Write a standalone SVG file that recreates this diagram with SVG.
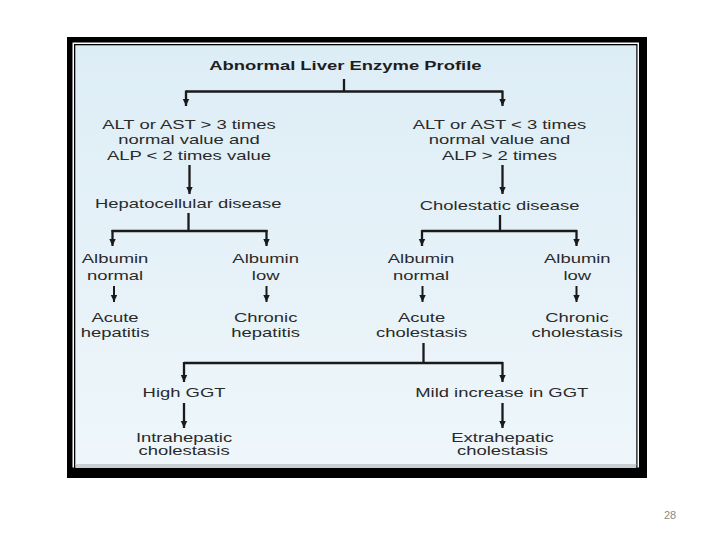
<svg xmlns="http://www.w3.org/2000/svg" width="720" height="540" viewBox="0 0 720 540">
<defs>
<linearGradient id="bg" x1="0" y1="0" x2="0" y2="1">
<stop offset="0" stop-color="#ddedf6"/>
<stop offset="1" stop-color="#eef6fa"/>
</linearGradient>
<marker id="ah" markerUnits="userSpaceOnUse" markerWidth="8" markerHeight="8" refX="7" refY="4" orient="auto">
<path d="M0,0.8 L7,4 L0,7.2 Z" fill="#1a1a1a"/>
</marker>
</defs>
<style>
.t{font-family:"Liberation Sans",Arial,sans-serif;font-size:12.3px;fill:#2a2a2a;text-anchor:middle}
.b{font-weight:bold;fill:#1e1e1e}
.c{fill:none;stroke:#1a1a1a;stroke-width:2.3}
.a{fill:none;stroke:#1a1a1a;stroke-width:2.3;marker-end:url(#ah)}
.s{fill:none;stroke:#1a1a1a;stroke-width:2;marker-end:url(#ah)}
</style>
<rect width="720" height="540" fill="#ffffff"/>
<g id="frame">
<rect x="67" y="37" width="580" height="441" fill="#000"/>
<rect x="72.5" y="42.5" width="566.5" height="425" fill="#fff"/>
<rect x="74" y="44" width="563.5" height="424" fill="#000"/>
<rect x="75.3" y="45.3" width="561" height="420" fill="url(#bg)"/>
<rect x="75.3" y="464" width="561" height="4" fill="#c9ced2"/>
</g>
<g id="connectors">
<path class="c" d="M344,79 V91.5 M186,91.5 H502.5"/>
<path class="a" d="M186,90.5 V106"/>
<path class="a" d="M502.5,90.5 V106"/>
<path class="a" d="M189.5,165 V194"/>
<path class="a" d="M502.5,165 V194"/>
<path class="c" d="M188.5,213 V231 M111.5,231 H267.5"/>
<path class="a" d="M112.5,230 V246"/>
<path class="a" d="M266.5,230 V246"/>
<path class="c" d="M500,215 V231 M421.5,231 H577"/>
<path class="a" d="M422,230 V246"/>
<path class="a" d="M576.5,230 V246"/>
<path class="s" d="M114,286 V302"/>
<path class="s" d="M266.5,286 V302"/>
<path class="s" d="M422.5,286 V302"/>
<path class="s" d="M576.5,286 V302"/>
<path class="c" d="M423.5,343 V363 M184,363 H503"/>
<path class="a" d="M184,362 V382"/>
<path class="a" d="M502.5,362 V382"/>
<path class="a" d="M184,403 V428"/>
<path class="a" d="M502.5,403 V428"/>
</g>
<g transform="scale(1.5,1)">
<g id="title"><text class="t b" x="230.3" y="70.5">Abnormal Liver Enzyme Profile</text></g>
<g id="n_alt_high">
<text class="t" x="126" y="129.3">ALT or AST &gt; 3 times</text>
<text class="t" x="126" y="144.5">normal value and</text>
<text class="t" x="126" y="160">ALP &lt; 2 times value</text>
</g>
<g id="n_alt_low">
<text class="t" x="333" y="129.3">ALT or AST &lt; 3 times</text>
<text class="t" x="333" y="144.5">normal value and</text>
<text class="t" x="333" y="160">ALP &gt; 2 times</text>
</g>
<g id="n_hep"><text class="t" x="125.5" y="208.5">Hepatocellular disease</text></g>
<g id="n_chol"><text class="t" x="333.1" y="210">Cholestatic disease</text></g>
<g id="n_alb_n1"><text class="t" x="76.7" y="263.5">Albumin</text><text class="t" x="76.7" y="280">normal</text></g>
<g id="n_alb_l1"><text class="t" x="177.1" y="263.5">Albumin</text><text class="t" x="177.1" y="280">low</text></g>
<g id="n_alb_n2"><text class="t" x="280.7" y="263.5">Albumin</text><text class="t" x="280.7" y="280">normal</text></g>
<g id="n_alb_l2"><text class="t" x="384.9" y="263.5">Albumin</text><text class="t" x="384.9" y="280">low</text></g>
<g id="n_acute_hep"><text class="t" x="76.7" y="321.7">Acute</text><text class="t" x="76.7" y="336.7">hepatitis</text></g>
<g id="n_chronic_hep"><text class="t" x="177.1" y="321.7">Chronic</text><text class="t" x="177.1" y="336.7">hepatitis</text></g>
<g id="n_acute_chol"><text class="t" x="281.1" y="321.7">Acute</text><text class="t" x="281.1" y="336.7">cholestasis</text></g>
<g id="n_chronic_chol"><text class="t" x="384.7" y="321.7">Chronic</text><text class="t" x="384.7" y="336.7">cholestasis</text></g>
<g id="n_high_ggt"><text class="t" x="122.7" y="396.7">High GGT</text></g>
<g id="n_mild_ggt"><text class="t" x="334.5" y="396.7">Mild increase in GGT</text></g>
<g id="n_intra"><text class="t" x="122.7" y="441.7">Intrahepatic</text><text class="t" x="122.7" y="455.5">cholestasis</text></g>
<g id="n_extra"><text class="t" x="335" y="441.7">Extrahepatic</text><text class="t" x="335" y="455.5">cholestasis</text></g>
</g>
<text x="670" y="519" style="font-family:'Liberation Sans',Arial,sans-serif;font-size:11px;fill:#8a8a8a;text-anchor:middle">28</text>
</svg>
